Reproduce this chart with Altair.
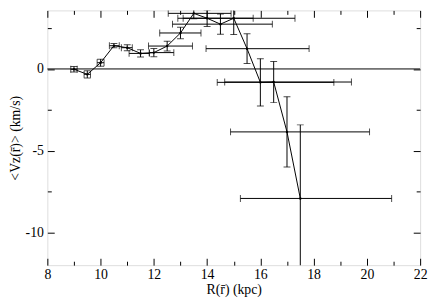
import altair as alt
import pandas as pd

R = [9.0, 9.5, 10.0, 10.5, 11.0, 11.5, 12.0, 12.5, 13.0, 13.5, 14.0, 14.5, 15.0, 15.5, 16.0, 16.5, 17.0, 17.5]
V = [-0.02, -0.33, 0.38, 1.42, 1.3, 0.95, 1.0, 1.4, 2.2, 3.4, 3.1, 2.74, 3.1, 1.24, -0.82, -0.8, -3.85, -7.92]
V_err = [0.17, 0.22, 0.22, 0.13, 0.18, 0.22, 0.25, 0.3, 0.35, 0.33, 0.5, 0.62, 1.0, 0.91, 1.45, 1.26, 2.15, 4.5]
R_lo = [8.88, 9.38, 9.87, 10.33, 10.78, 11.07, 11.83, 11.8, 12.22, 12.54, 12.9, 12.7, 13.1, 13.96, 14.38, 14.66, 14.88, 15.25]
R_hi = [9.12, 9.62, 10.13, 10.7, 11.19, 11.83, 12.75, 13.45, 13.77, 14.9, 15.73, 16.45, 17.3, 17.83, 18.76, 19.42, 20.1, 20.93]

x_major = [8, 10, 12, 14, 16, 18, 20, 22]
x_minor = [9, 11, 13, 15, 17, 19, 21]
y_major = [-10, -5, 0]
y_minor = [-7.5, -2.5, 2.5]

df = pd.DataFrame({
    "R": R, "V": V,
    "Vlo": [v - e for v, e in zip(V, V_err)],
    "Vhi": [v + e for v, e in zip(V, V_err)],
    "Rlo": R_lo, "Rhi": R_hi,
})

FONT = "Liberation Serif, Times New Roman, serif"
xs = alt.Scale(domain=[8, 22], nice=False, zero=False)
ys = alt.Scale(domain=[-12, 3.58], nice=False, zero=False)

common = dict(domain=False, grid=False, tickColor="black", tickWidth=1,
              labelFont=FONT, labelFontSize=14, labelColor="black",
              labelFlush=False, labelOverlap=False, labelBound=False,
              titleFont=FONT, titleFontSize=14, titleFontWeight="normal", titleColor="black")

def ax(orient, values, size, labels, title=None, **kw):
    d = dict(common)
    d.update(kw)
    if title is None:
        return alt.Axis(orient=orient, values=values, tickSize=size, offset=-size,
                        labels=labels, title=None, **d)
    return alt.Axis(orient=orient, values=values, tickSize=size, offset=-size,
                    labels=labels, title=title, **d)

base = alt.Chart(df)

line = base.mark_line(color="black", strokeWidth=1).encode(
    x=alt.X("R:Q", scale=xs, axis=ax("bottom", x_major, 7, True, "R(r\u0304) (kpc)",
                                     labelPadding=3, titlePadding=1,
                                     labelExpr="'' + datum.value")),
    y=alt.Y("V:Q", scale=ys, axis=ax("left", y_major, 7, True, "<V\u1d22(r\u0304)> (km/s)",
                                     labelPadding=4, titlePadding=3,
                                     labelExpr="'' + datum.value")),
    order="R:Q",
)

pts = base.mark_point(filled=True, color="black", size=6, opacity=1).encode(
    x=alt.X("R:Q", scale=xs, axis=ax("bottom", x_minor, 4, False)),
    y=alt.Y("V:Q", scale=ys, axis=ax("left", y_minor, 4, False)),
)

ybars = base.mark_rule(color="black", strokeWidth=1, clip=True).encode(
    x=alt.X("R:Q", scale=xs, axis=ax("top", x_major, 7, False)),
    y=alt.Y("Vlo:Q", scale=ys, axis=ax("right", y_major, 7, False)),
    y2="Vhi:Q",
)

xbars = base.mark_rule(color="black", strokeWidth=1, clip=True).encode(
    x=alt.X("Rlo:Q", scale=xs, axis=ax("top", x_minor, 4, False)),
    x2="Rhi:Q",
    y=alt.Y("V:Q", scale=ys, axis=ax("right", y_minor, 4, False)),
)

ycap_lo = base.mark_tick(color="black", thickness=1, size=7, orient="horizontal", clip=True).encode(
    x=alt.X("R:Q", scale=xs, axis=None), y=alt.Y("Vlo:Q", scale=ys, axis=None))
ycap_hi = base.mark_tick(color="black", thickness=1, size=7, orient="horizontal", clip=True).encode(
    x=alt.X("R:Q", scale=xs, axis=None), y=alt.Y("Vhi:Q", scale=ys, axis=None))
xcap_lo = base.mark_tick(color="black", thickness=1, size=7, orient="vertical", clip=True).encode(
    x=alt.X("Rlo:Q", scale=xs, axis=None), y=alt.Y("V:Q", scale=ys, axis=None))
xcap_hi = base.mark_tick(color="black", thickness=1, size=7, orient="vertical", clip=True).encode(
    x=alt.X("Rhi:Q", scale=xs, axis=None), y=alt.Y("V:Q", scale=ys, axis=None))

zero = alt.Chart(pd.DataFrame({"z": [0]})).mark_rule(color="black", strokeWidth=1).encode(
    y=alt.Y("z:Q", scale=ys, axis=None))

chart = alt.layer(
    zero, xbars, ybars, xcap_lo, xcap_hi, ycap_lo, ycap_hi, line, pts
).resolve_axis(x="independent", y="independent").properties(
    width=379, height=259,
    autosize=alt.AutoSizeParams(type="none"),
    padding={"left": 40, "top": 0, "right": 8, "bottom": 35},
).configure_view(stroke="black", strokeWidth=1).configure(background="white")

chart.save("out.html", embed_options={"renderer": "svg", "actions": False})
